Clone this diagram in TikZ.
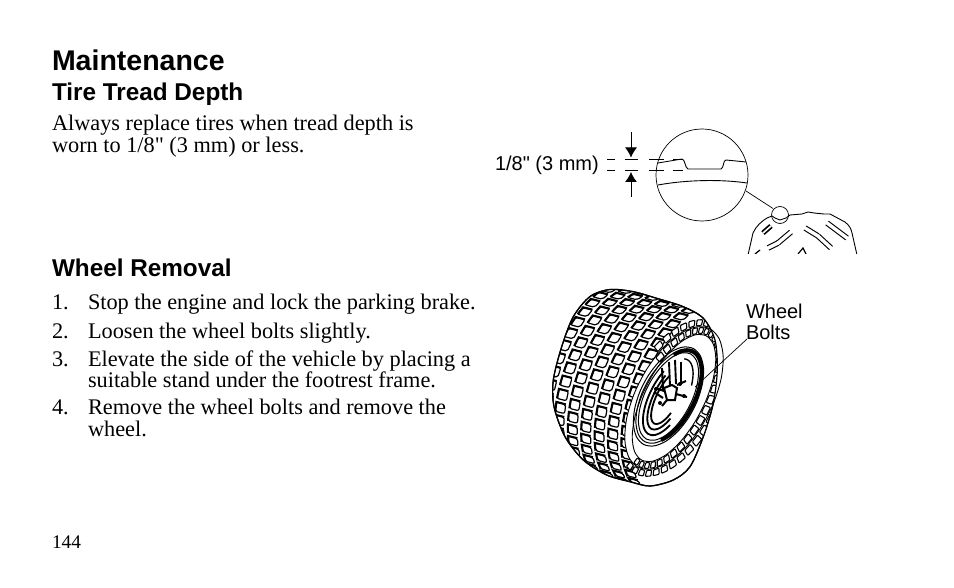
\documentclass[tikz,border=0pt]{standalone}
\usepackage{fontspec}
\newfontfamily\bfont{Liberation Serif}
\newfontfamily\hfont{Liberation Sans}
\usetikzlibrary{arrows.meta}
\tikzset{
 x=1pt,y=-1pt,
 txt/.style={anchor=base west,inner sep=0pt,outer sep=0pt},
 h1/.style={txt,font=\hfont\bfseries\fontsize{28.5}{30}\selectfont},
 h2/.style={txt,font=\hfont\bfseries\fontsize{24.3}{26}\selectfont},
 body/.style={txt,font=\bfont\fontsize{22.3}{24}\selectfont},
 lab/.style={txt,font=\hfont\fontsize{20}{22}\selectfont},
 ln/.style={draw=black,line width=0.9pt},
 thin1/.style={draw=black,line width=0.7pt},
 dsh/.style={draw=black,line width=0.7pt},
 blk/.style={fill=white,draw=black,line width=1.2pt,rounded corners=2pt},
 sblk/.style={fill=white,draw=black,line width=1.1pt,rounded corners=.8pt},
 arr/.style={draw=black,line width=0.9pt,-{Latex[length=10pt,width=12pt]}},
}
\newcommand{\tell}[5][ln]{\draw[#1] plot[smooth cycle,samples at={0,20,...,340},variable=\t]
 ({#2+#4*cos(\t)*.46+#5*sin(\t)*.888},{#3-#4*cos(\t)*.888+#5*sin(\t)*.46});}
\newcommand{\tarc}[7][ln]{\draw[#1] plot[smooth,domain=#6:#7,samples=16,variable=\t]
 ({#2+#4*cos(\t)*.46+#5*sin(\t)*.888},{#3-#4*cos(\t)*.888+#5*sin(\t)*.46});}
\begin{document}
\begin{tikzpicture}
\useasboundingbox (0,0) rectangle (954,588);
\node[h1] (title) at (52,71) {Maintenance};
\node[h2] (h1) at (52,100.5) {Tire Tread Depth};
\node[body] (p1) at (52,131) {Always replace tires when tread depth is};
\node[body] (p2) at (52,153) {worn to 1/8" (3 mm) or less.};
\node[h2] (h2) at (52,277) {Wheel Removal};
\node[body] (n1) at (52,309.5) {1.};
\node[body] (i1) at (88,309.5) {Stop the engine and lock the parking brake.};
\node[body] (n2) at (52,338) {2.};
\node[body] (i2) at (88,338) {Loosen the wheel bolts slightly.};
\node[body] (n3) at (52,366.5) {3.};
\node[body] (i3) at (88,366.5) {Elevate the side of the vehicle by placing a};
\node[body] (i3b) at (88,387) {suitable stand under the footrest frame.};
\node[body] (n4) at (52,414) {4.};
\node[body] (i4) at (88,414) {Remove the wheel bolts and remove the};
\node[body] (i4b) at (88,436) {wheel.};
\node[txt,font=\bfont\fontsize{19.3}{21}\selectfont] (pg) at (52,548) {144};
% ---- tread detail
\node[lab] (dim) at (495,171) {1/8" (3 mm)};
\coordinate (bc) at (702,175);
\draw[thin1] (bc) circle (46);
\draw[ln] (658,163) -- (682,159) .. controls (685,159) and (685,168) .. (688,169) -- (721,169) .. controls (724,168) and (723,160) .. (726,160) -- (746,162);
\draw[ln] (658,185) .. controls (685,180) and (720,179) .. (747,183);
\foreach \yy in {159.5,170.5}{
 \draw[dsh] (607,\yy) -- (615,\yy) (625,\yy) -- (638,\yy) (649,\yy) -- (664,\yy) (673,\yy) -- (683,\yy);
}
\coordinate (at) at (631,132); \coordinate (atip) at (631,157.5);
\coordinate (ab) at (631,197); \coordinate (abip) at (631,172);
\draw[arr] (at) -- (atip);
\draw[arr] (ab) -- (abip);
% small wheel
\coordinate (sc) at (780,215);
\draw[thin1] (sc) circle (8.5);
\coordinate (lk1) at (746,191); \coordinate (lk2) at (773,208.5);
\draw[thin1] (lk1) -- (lk2);
\begin{scope}
\clip (740,200) rectangle (870,253.5);
\draw[ln] (748,255) -- (753,233) .. controls (756,226) and (762,221) .. (767,218) -- (772,216) -- (775,218) -- (780,220) -- (786,218) -- (790,215) -- (802,214) -- (808,212) -- (814,213) -- (824,214) -- (830,214) -- (845,222) .. controls (850,226) and (851,229) .. (852,233) -- (857,255);
\foreach \a/\b/\c/\d in {768/248/778/243, 778/243/791/232, 805/228/818/236, 818/236/831/248, 827/223/847/238}{
 \draw[black,line width=5.6pt] (\a,\b) -- (\c,\d);
}
\foreach \a/\b/\c/\d in {768/248/778/243, 778/243/791/232, 805/228/818/236, 818/236/831/248, 827/223/847/238}{
 \draw[white,line width=3.4pt,line cap=round] (\a,\b) -- (\c,\d);
}
\draw[black,line width=5pt] (763,233) -- (771,226);
\draw[white,line width=1.6pt] (763,233) -- (771,226);
\draw[ln,line width=1.2pt] (755,254) -- (760,250) (798,254) -- (803,248) -- (806,254);
\end{scope}
% ---- big tyre
\def\silh{(610,289.5) (590,296.5) (573.3,316.7) (561.7,346.7) (553.3,380) (554,406.7) (565,436.7) (583.3,460) (606.7,475) (630,481.7) (650,486) (673.3,480) (690,466.7) (703.3,436.7) (713.3,403.3) (717.3,370) (715,340) (703.3,318.3) (683.3,306.7) (656.7,298.3) (633.3,291.7)}
\begin{scope}
\clip plot[smooth cycle] coordinates {\silh};
\foreach \i in {0,...,6}{
 \foreach \j in {0,...,24}{
  \pgfmathsetmacro{\th}{168+8*\j+(mod(\i,2)*4)}
  \pgfmathsetmacro{\cx}{602+13.4*\i+100*cos(\th)*.35+47*sin(\th)*.937}
  \pgfmathsetmacro{\cy}{378+3.5*\i-100*cos(\th)*.937+47*sin(\th)*.35}
  \pgfmathsetmacro{\tx}{2.9*pi/180*(-100*sin(\th)*.35+47*cos(\th)*.937)}
  \pgfmathsetmacro{\ty}{2.9*pi/180*(100*sin(\th)*.937+47*cos(\th)*.35)}
  \draw[blk] ({\cx-\tx-4.7},{\cy-\ty-1.2}) -- ({\cx+\tx-4.7},{\cy+\ty-1.2}) -- ({\cx+\tx+4.7},{\cy+\ty+1.2}) -- ({\cx-\tx+4.7},{\cy-\ty+1.2}) -- cycle;
  \draw[black,line width=2.1pt] ({\cx-\tx-4.7},{\cy-\ty-1.2}) -- ({\cx+\tx-4.7},{\cy+\ty-1.2}) -- ({\cx+\tx+4.7},{\cy+\ty+1.2});
 }
}
\end{scope}
\draw[ln,line width=1.2pt] plot[smooth cycle] coordinates {\silh};
\draw[fill=white,ln] plot[smooth cycle,samples at={0,20,...,340},variable=\t]
 ({674+78*cos(\t)*.46+38*sin(\t)*.888},{398-78*cos(\t)*.888+38*sin(\t)*.46});
\begin{scope}
\clip plot[smooth cycle] coordinates {\silh};
\foreach \t in {-66,-57,...,190}{
 \foreach \r/\s in {0/0,1/4.5}{
 \pgfmathsetmacro{\ta}{\t-3.2+\s}
 \pgfmathsetmacro{\tb}{\t+3.2+\s}
 \pgfmathsetmacro{\ra}{71+8*\r}
 \pgfmathsetmacro{\rb}{77+8*\r}
 \pgfmathsetmacro{\qa}{31+8.5*\r}
 \pgfmathsetmacro{\qb}{37+8.5*\r}
 \draw[sblk]
  ({674+\ra*cos(\ta)*.46+\qa*sin(\ta)*.888},{398-\ra*cos(\ta)*.888+\qa*sin(\ta)*.46}) --
  ({674+\rb*cos(\ta)*.46+\qb*sin(\ta)*.888},{398-\rb*cos(\ta)*.888+\qb*sin(\ta)*.46}) --
  ({674+\rb*cos(\tb)*.46+\qb*sin(\tb)*.888},{398-\rb*cos(\tb)*.888+\qb*sin(\tb)*.46}) --
  ({674+\ra*cos(\tb)*.46+\qa*sin(\tb)*.888},{398-\ra*cos(\tb)*.888+\qa*sin(\tb)*.46}) -- cycle;
 }
}
\end{scope}
\draw[ln,line width=1.2pt] plot[smooth cycle] coordinates {\silh};
\draw[fill=white,ln] plot[smooth cycle,samples at={0,20,...,340},variable=\t]
 ({674+70*cos(\t)*.46+30*sin(\t)*.888},{398-70*cos(\t)*.888+30*sin(\t)*.46});
% rim
\coordinate (rc) at (668.5,396.5);
\tell[line width=1pt]{668.5}{396.5}{54}{28}
\tell[line width=1pt]{668.5}{396.5}{51}{25.5}
\tell[line width=1pt]{668.5}{396.5}{48}{23}
\tarc[line width=4pt]{670}{396}{50}{24.5}{-40}{150}
\tarc[line width=1.8pt]{668}{397}{42}{18}{125}{300}
\tarc[line width=1.8pt]{668}{397}{36}{14}{120}{300}
\tarc[line width=1.8pt]{668}{397}{30}{11}{115}{310}
\tarc[line width=1.4pt]{668}{397}{42}{18}{-10}{60}
\foreach \a/\b/\c/\d in {662/368/663/390, 669/362/670/386, 675/360/676/384, 681/362/681/385}{
 \draw[black,line width=1.9pt] (\a,\b) -- (\c,\d);
}
\draw[black,line width=2pt,fill=white] (664,388) -- (672,385) -- (677,388) -- (675,400) -- (667,400) -- cycle;
\draw[black,line width=2pt] (655,388) -- (664,391) (677,385) -- (686,381) (676,394) -- (687,397) (667,400) -- (662,406) (654,392) -- (663,398);
\fill[black] (656,389) circle (2) (680,384) circle (2) (684,396) circle (2) (660,403) circle (2);
% leader
\node[lab] (wb1) at (746,319) {Wheel};
\node[lab] (wb2) at (746,340) {Bolts};
\coordinate (lb) at (747,339); \coordinate (lt) at (695,387);
\draw[thin1] (lb) -- (lt);
\end{tikzpicture}
\end{document}
